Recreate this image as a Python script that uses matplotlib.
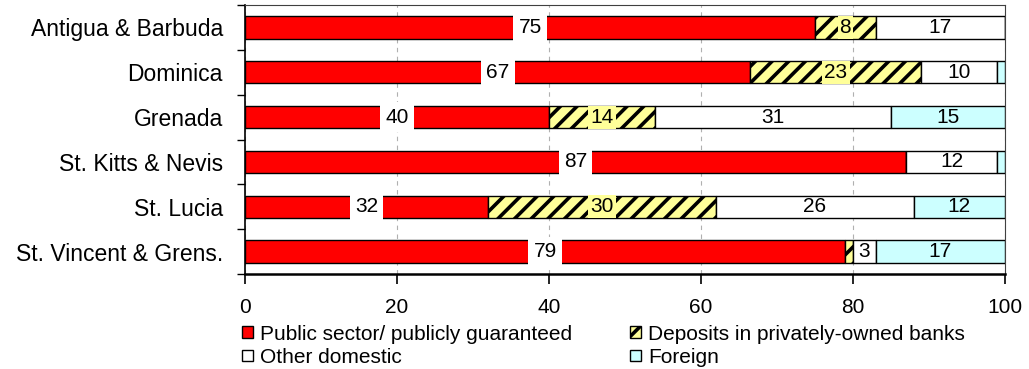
import matplotlib
matplotlib.use("Agg")
from matplotlib import pyplot as plt
from matplotlib.patches import Patch
import numpy as np

countries = ["Antigua & Barbuda", "Dominica", "Grenada", "St. Kitts & Nevis",
             "St. Lucia", "St. Vincent & Grens."]
public = [75, 66.5, 40, 87, 32, 79]
deposits = [8, 22.5, 14, 0, 30, 1]
other = [17, 10, 31, 12, 26, 3]
foreign = [0, 1, 15, 1, 12, 17]

series_names = ["Public sector/ publicly guaranteed", "Deposits in privately-owned banks",
                "Other domestic", "Foreign"]

plt.rcParams['font.family'] = ['Liberation Sans', 'DejaVu Sans']
plt.rcParams['hatch.linewidth'] = 2.6

fig = plt.figure(figsize=(10.29, 3.69), dpi=100)
ax = fig.add_axes([245/1029, 1-274/369, 760/1029, 269/369])

y = np.arange(len(countries))
colors = ['#ff0000', '#ffff99', '#ffffff', '#ccffff']
hatches = [None, '//', None, None]
# label background per series (red and hatched segments get a box)
label_bg = ['white', '#ffff99', None, None]
label_pad = [0.25, 0.1, 0, 0]

left = np.zeros(len(countries))
for vals, col, hat, bg, pad in zip([public, deposits, other, foreign], colors, hatches, label_bg, label_pad):
    vals = np.array(vals, dtype=float)
    ax.barh(y, vals, left=left, height=0.5, color=col, hatch=hat,
            edgecolor='black', linewidth=1.0, zorder=3)
    for yi, (l, v) in enumerate(zip(left, vals)):
        if v >= 2:
            kw = {}
            if bg:
                kw['bbox'] = dict(boxstyle='square,pad=%s' % pad, fc=bg, ec='none')
            ax.text(l + v/2, yi, str(int(v + 0.5)), ha='center', va='center',
                    fontsize=15, zorder=5, **kw)
    left += vals

ax.set_xlim(0, 100)
ax.set_ylim(len(countries) - 0.5, -0.5)
ax.set_xticks([0, 20, 40, 60, 80, 100])
ax.tick_params(axis='x', labelsize=15, length=7, width=1.2, direction='out', pad=10)
ax.set_yticks(y)
ax.set_yticklabels(countries, fontsize=16.5)
ax.set_yticks(np.arange(-0.5, len(countries), 1), minor=True)
ax.tick_params(axis='y', which='major', length=0, pad=16)
ax.tick_params(axis='y', which='minor', length=6, width=1, direction='out')
ax.xaxis.grid(True, linestyle=(0, (4, 4)), color='#b0b0b0', linewidth=0.8, zorder=0)

ax.spines['top'].set_color('#404040')
ax.spines['right'].set_color('#404040')
ax.spines['bottom'].set_linewidth(1.8)
ax.spines['left'].set_linewidth(1.2)

handles = [Patch(facecolor=c, edgecolor='black', hatch=h) for c, h in zip(colors, hatches)]
order = [0, 2, 1, 3]
leg = fig.legend([handles[i] for i in order], [series_names[i] for i in order],
                 ncol=2, loc='lower left', bbox_to_anchor=(240/1029, 0.0),
                 frameon=False, prop={'size': 15},
                 handlelength=0.5, handleheight=0.5, handletextpad=0.35,
                 columnspacing=2.8, labelspacing=0.2, borderpad=0, borderaxespad=0.1)

fig.savefig("out.png", dpi=100)
